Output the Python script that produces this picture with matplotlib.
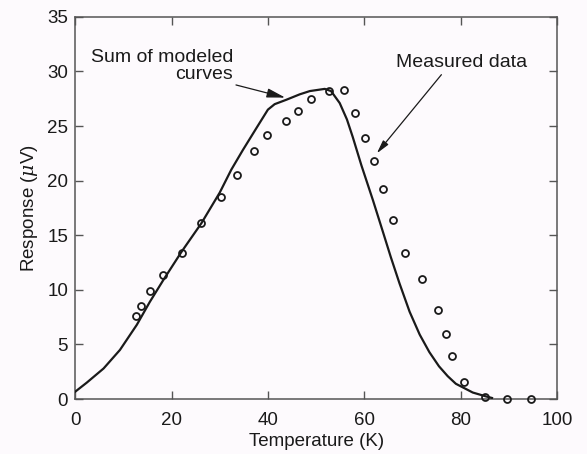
import matplotlib
matplotlib.use("Agg")
import matplotlib.pyplot as plt

plt.rcParams['font.family'] = ['Liberation Sans', 'DejaVu Sans']
plt.rcParams['mathtext.fontset'] = 'custom'
plt.rcParams['mathtext.it'] = 'DejaVu Serif:italic'

# sum of modeled curves
model_t = [0, 2.4, 5.9, 9.3, 12.8, 15.5, 18.3, 22.1, 26.2, 30.0, 32.4, 34.8, 37.6,
           40.0, 41.4, 43.8, 46.6, 48.7, 51.8, 53.1, 54.9, 56.4, 57.6, 59.4, 61.8,
           63.8, 65.5, 67.3, 69.4, 71.5, 73.5, 75.5, 77.3, 79.0, 82.5, 85.2, 86.5]
model_r = [0.67, 1.5, 2.8, 4.5, 6.8, 8.9, 10.9, 13.5, 16.1, 18.9, 21.0, 22.8, 24.8,
           26.5, 27.0, 27.4, 27.9, 28.2, 28.4, 28.2, 27.1, 25.6, 24.0, 21.4, 18.2,
           15.4, 13.0, 10.6, 8.0, 5.9, 4.3, 3.0, 2.1, 1.4, 0.6, 0.25, 0.1]

# measured data
meas_t = [12.6, 13.6, 15.5, 18.3, 22.1, 26.1, 30.2, 33.6, 37.1, 39.8, 43.8, 46.2,
          48.9, 52.7, 55.8, 58.0, 60.2, 62.0, 63.8, 66.0, 68.4, 71.9, 75.3, 76.9,
          78.1, 80.6, 85.0, 89.6, 94.6]
meas_r = [7.6, 8.5, 9.9, 11.4, 13.4, 16.1, 18.5, 20.5, 22.7, 24.2, 25.5, 26.4,
          27.5, 28.2, 28.3, 26.2, 23.9, 21.8, 19.2, 16.4, 13.4, 11.0, 8.2, 6.0,
          3.9, 1.6, 0.2, 0.0, 0.0]

bg = '#fdfafd'
ink = '#1a1a1a'
fs = 13.5

fig = plt.figure(figsize=(5.87, 4.54), dpi=100, facecolor=bg)
ax = fig.add_axes([0.128, 0.121, 0.821, 0.842], facecolor=bg)

ax.plot(model_t, model_r, color=ink, lw=1.6, zorder=3,
        solid_joinstyle='round')
ax.plot(meas_t, meas_r, linestyle='none', marker='o', ms=5, mfc='none',
        mec=ink, mew=1.3, clip_on=False, zorder=4)

ax.set_xlim(0, 100)
ax.set_ylim(0, 35)
ax.set_xticks(range(0, 101, 20))
ax.set_yticks(range(0, 36, 5))
ax.tick_params(direction='in', length=6, width=1, colors='#555555',
               labelcolor=ink, labelsize=fs, top=True, right=True, pad=5)
ax.tick_params(axis='x', pad=9)
for s in ax.spines.values():
    s.set_color('#555555')
    s.set_linewidth(1.1)

ax.set_xlabel('Temperature (K)', fontsize=fs, color=ink, labelpad=3)
ax.set_ylabel(r'Response ($\mu$V)', fontsize=fs, color=ink, labelpad=5)

arrow = dict(arrowstyle='-|>,head_length=0.8,head_width=0.2', color=ink,
             lw=0.9, shrinkA=0, shrinkB=0)
ax.annotate('Sum of modeled\ncurves', xy=(43.6, 27.6), xytext=(32.8, 30.5),
            ha='right', va='center', fontsize=14, color=ink,
            linespacing=1.05, arrowprops=arrow)
ax.annotate('', xy=(62.6, 22.5), xytext=(76.0, 29.7), arrowprops=arrow)
ax.text(80.1, 30.8, 'Measured data', ha='center', va='center', fontsize=14,
        color=ink)

fig.savefig('out.png', dpi=100, facecolor=bg)
